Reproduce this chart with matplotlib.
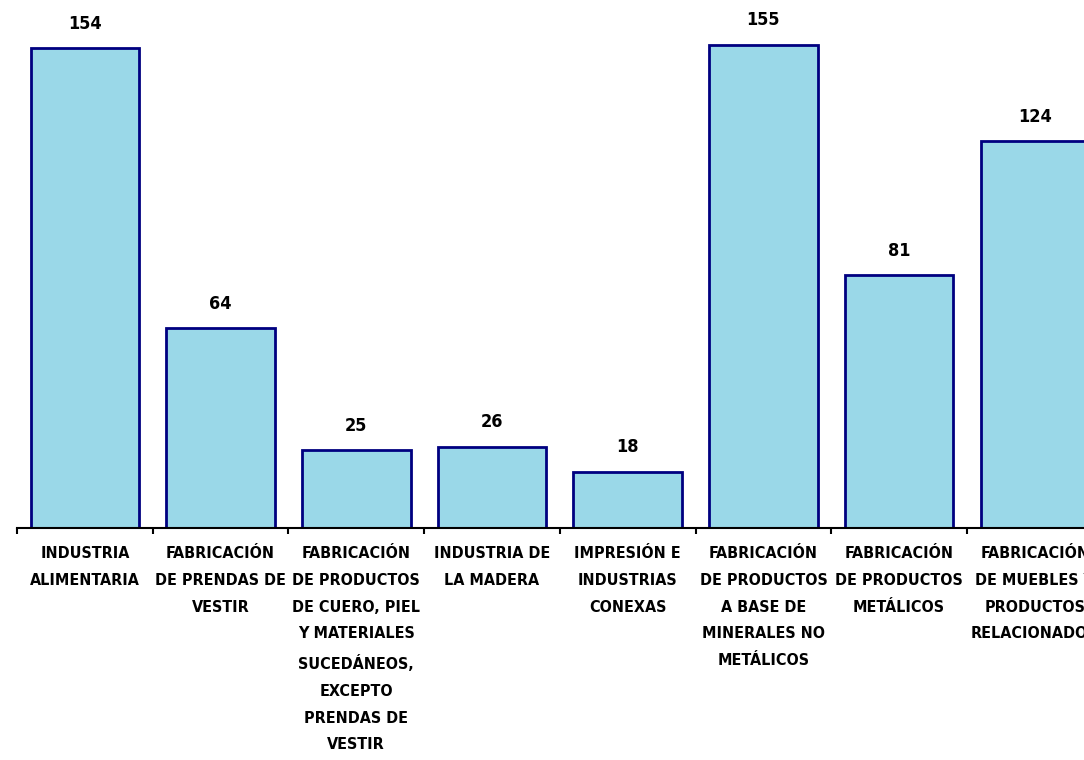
"""
Bar chart: number of units by manufacturing branch.
"""

import numpy as np
import matplotlib
matplotlib.use("Agg")  # no display
import matplotlib.pyplot as plt

categories = [
    "INDUSTRIA\nALIMENTARIA",
    "FABRICACIÓN\nDE PRENDAS DE\nVESTIR",
    "FABRICACIÓN\nDE PRODUCTOS\nDE CUERO, PIEL\nY MATERIALES\nSUCEDÁNEOS,\nEXCEPTO\nPRENDAS DE\nVESTIR",
    "INDUSTRIA DE\nLA MADERA",
    "IMPRESIÓN E\nINDUSTRIAS\nCONEXAS",
    "FABRICACIÓN\nDE PRODUCTOS\nA BASE DE\nMINERALES NO\nMETÁLICOS",
    "FABRICACIÓN\nDE PRODUCTOS\nMETÁLICOS",
    "FABRICACIÓN\nDE MUEBLES Y\nPRODUCTOS\nRELACIONADOS",
]
values = [154, 64, 25, 26, 18, 155, 81, 124]

FONT = ["Liberation Sans Narrow", "DejaVu Sans"]
BAR_COLOR = "#9AD8E8"
EDGE_COLOR = "#000080"

fig = plt.figure(figsize=(10.84, 7.6), dpi=100)
# axes runs a little past the right edge, as in the source picture
ax = fig.add_axes([0.0157, 0.3053, 1.0015, 0.6562])

x = np.arange(len(values))
bars = ax.bar(x, values, width=0.8, color=BAR_COLOR,
              edgecolor=EDGE_COLOR, linewidth=2)

for xi, v in zip(x, values):
    ax.annotate(str(v), (xi, v), xytext=(0, 14), textcoords="offset points",
                ha="center", va="baseline", fontsize=13, fontweight="bold",
                family=FONT, stretch="condensed")

ax.set_xlim(-0.5, len(values) - 0.5)
ax.set_ylim(0, 160)

for side in ("left", "right", "top"):
    ax.spines[side].set_visible(False)
ax.spines["bottom"].set_linewidth(1.5)
ax.set_yticks([])

ax.set_xticks(x)
ax.set_xticklabels(categories, fontsize=11.5, fontweight="bold",
                   family=FONT, stretch="condensed", linespacing=1.98,
                   va="top", ha="center")
ax.tick_params(axis="x", which="major", length=0, pad=13)
ax.set_xticks(np.arange(len(values) + 1) - 0.5, minor=True)
ax.tick_params(axis="x", which="minor", length=4, width=1.5, direction="out")

fig.savefig("out.png", dpi=100)
